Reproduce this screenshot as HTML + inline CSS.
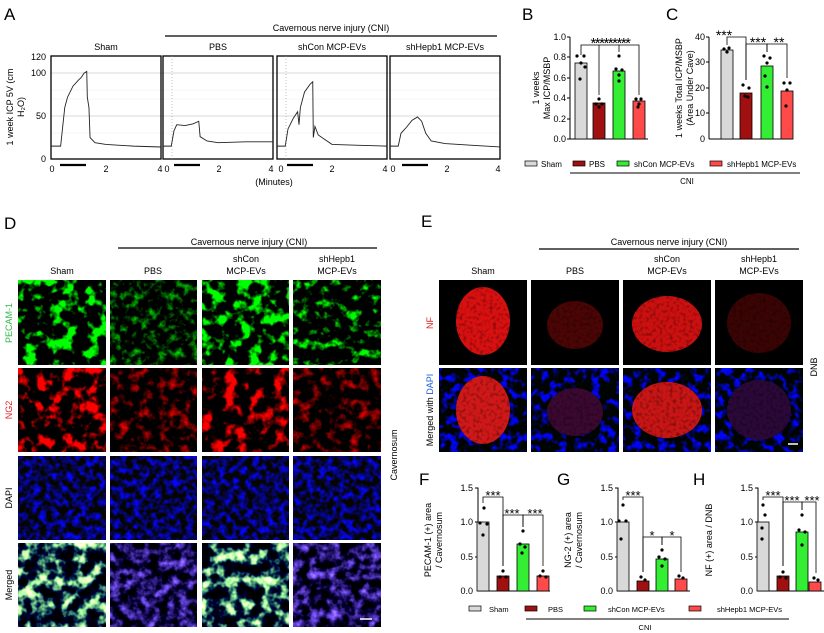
<!DOCTYPE html>
<html><head><meta charset="utf-8"><style>
html,body{margin:0;padding:0;background:#fff;}
svg{display:block;font-family:"Liberation Sans",Arial,sans-serif;}
filter{color-interpolation-filters:sRGB;}
</style></head><body>
<svg width="824" height="633" viewBox="0 0 824 633" xmlns="http://www.w3.org/2000/svg">
<defs>
<filter id="g1" color-interpolation-filters="sRGB" x="0" y="0" width="100%" height="100%"><feTurbulence type="fractalNoise" baseFrequency="0.08" numOctaves="3" seed="2"/><feColorMatrix values="0 0 0 0 0  6 0 0 0 -3.0  0 0 0 0 0  0 0 0 0 1"/></filter>
<filter id="g2" color-interpolation-filters="sRGB" x="0" y="0" width="100%" height="100%"><feTurbulence type="fractalNoise" baseFrequency="0.12" numOctaves="3" seed="5"/><feColorMatrix values="0 0 0 0 0  2.2 0 0 0 -1.05  0 0 0 0 0  0 0 0 0 1"/></filter>
<filter id="g3" color-interpolation-filters="sRGB" x="0" y="0" width="100%" height="100%"><feTurbulence type="fractalNoise" baseFrequency="0.08" numOctaves="3" seed="8"/><feColorMatrix values="0 0 0 0 0  6 0 0 0 -2.9  0 0 0 0 0  0 0 0 0 1"/></filter>
<filter id="g4" color-interpolation-filters="sRGB" x="0" y="0" width="100%" height="100%"><feTurbulence type="fractalNoise" baseFrequency="0.1" numOctaves="3" seed="11"/><feColorMatrix values="0 0 0 0 0  4 0 0 0 -2.1  0 0 0 0 0  0 0 0 0 1"/></filter>
<filter id="r1" color-interpolation-filters="sRGB" x="0" y="0" width="100%" height="100%"><feTurbulence type="fractalNoise" baseFrequency="0.08" numOctaves="3" seed="4"/><feColorMatrix values="5.5 0 0 0 -2.7  0 0 0 0 0  0 0 0 0 0  0 0 0 0 1"/></filter>
<filter id="r2" color-interpolation-filters="sRGB" x="0" y="0" width="100%" height="100%"><feTurbulence type="fractalNoise" baseFrequency="0.1" numOctaves="3" seed="6"/><feColorMatrix values="2.5 0 0 0 -1.2  0 0 0 0 0  0 0 0 0 0  0 0 0 0 1"/></filter>
<filter id="r3" color-interpolation-filters="sRGB" x="0" y="0" width="100%" height="100%"><feTurbulence type="fractalNoise" baseFrequency="0.08" numOctaves="3" seed="9"/><feColorMatrix values="4.5 0 0 0 -2.2  0 0 0 0 0  0 0 0 0 0  0 0 0 0 1"/></filter>
<filter id="b1" color-interpolation-filters="sRGB" x="0" y="0" width="100%" height="100%"><feTurbulence type="fractalNoise" baseFrequency="0.15" numOctaves="2" seed="7"/><feColorMatrix values="0 0 0 0 0.02  0 0 0 0 0.02  2.6 0 0 0 -1.0  0 0 0 0 1"/></filter>
<filter id="m1" color-interpolation-filters="sRGB" x="0" y="0" width="100%" height="100%"><feTurbulence type="fractalNoise" baseFrequency="0.08" numOctaves="3" seed="12"/><feColorMatrix values="4 0 0 0 -2.0  5 0 0 0 -2.3  2 0 0 0 -0.7  0 0 0 0 1"/></filter>
<filter id="m2" color-interpolation-filters="sRGB" x="0" y="0" width="100%" height="100%"><feTurbulence type="fractalNoise" baseFrequency="0.1" numOctaves="3" seed="13"/><feColorMatrix values="1.5 0 0 0 -0.65  1.1 0 0 0 -0.5  2.6 0 0 0 -0.95  0 0 0 0 1"/></filter>
<filter id="nb" color-interpolation-filters="sRGB" x="0" y="0" width="100%" height="100%"><feTurbulence type="fractalNoise" baseFrequency="0.12" numOctaves="2" seed="15"/><feColorMatrix values="0 0 0 0 0  0 0 0 0 0.02  5 0 0 0 -2.4  0 0 0 0 1"/></filter>
<filter id="nf" color-interpolation-filters="sRGB" x="0" y="0" width="100%" height="100%"><feTurbulence type="fractalNoise" baseFrequency="0.3" numOctaves="1" seed="14"/><feColorMatrix values="0 0 0 0 0  0 0 0 0 0  0 0 0 0 0  -3 0 0 0 1.6"/></filter>
</defs>

<!-- Panel A -->
<text x="4" y="20" font-size="17">A</text>
<line x1="165" y1="36" x2="497" y2="36" stroke="#000" stroke-width="1.2"/>
<text x="331" y="31" font-size="9" text-anchor="middle">Cavernous nerve injury (CNI)</text>
<g font-size="9" text-anchor="middle">
<text x="106" y="50">Sham</text><text x="218" y="50">PBS</text><text x="332" y="50">shCon MCP-EVs</text><text x="445" y="50">shHepb1 MCP-EVs</text>
</g>
<g font-size="9" text-anchor="end"><text x="46" y="60">120</text><text x="46" y="76">100</text><text x="46" y="119">50</text><text x="46" y="162">0</text></g>
<text transform="translate(13,107) rotate(-90)" font-size="9" text-anchor="middle">1 week ICP 5V (cm</text>
<text transform="translate(24,107) rotate(-90)" font-size="9" text-anchor="middle">H₂O)</text>
<g stroke="#ccc" stroke-width="0.8"><line x1="51" y1="73" x2="500" y2="73"/><line x1="51" y1="116" x2="500" y2="116"/></g>
<g stroke="#eee" stroke-width="0.5"><line x1="51" y1="99" x2="500" y2="99"/><line x1="51" y1="133" x2="500" y2="133"/><line x1="51" y1="90" x2="500" y2="90"/></g>
<g fill="none" stroke="#000" stroke-width="1.3">
<rect x="51" y="56" width="110" height="103"/><rect x="163" y="56" width="110" height="103"/><rect x="277" y="56" width="110" height="103"/><rect x="390" y="56" width="110" height="103"/>
</g>
<line x1="172" y1="56" x2="172" y2="159" stroke="#999" stroke-dasharray="1,2" stroke-width="0.6"/>
<line x1="286" y1="56" x2="286" y2="159" stroke="#999" stroke-dasharray="1,2" stroke-width="0.6"/>
<g fill="none" stroke="#222" stroke-width="0.9">
<polyline vector-effect="non-scaling-stroke" transform="translate(51,159) scale(27.5,-0.858)" points="0,15 0.35,15 0.4,30 0.5,60 0.6,72 0.8,85 1.0,92 1.1,95 1.2,100 1.3,102 1.32,72 1.38,60 1.42,25 1.6,19 2,17 3,15 4,14"/>
<polyline vector-effect="non-scaling-stroke" transform="translate(163,159) scale(27.5,-0.858)" points="0,15 0.3,15 0.4,33 0.5,40 0.8,39 1.1,41 1.3,44 1.35,26 1.6,21 2,19 3,20 4,20"/>
<polyline vector-effect="non-scaling-stroke" transform="translate(277,159) scale(27.5,-0.858)" points="0,15 0.3,15 0.4,35 0.6,48 0.75,55 0.8,40 0.85,60 1.0,78 1.2,87 1.3,90 1.32,25 1.38,38 1.5,28 2,17 3,16 4,15"/>
<polyline vector-effect="non-scaling-stroke" transform="translate(390,159) scale(27.5,-0.858)" points="0,15 0.3,15 0.4,30 0.6,37 0.8,45 1.0,49 1.15,44 1.3,30 1.5,21 2,18 3,16 4,14"/>
</g>
<g stroke="#000" stroke-width="2.2"><line x1="60" y1="165" x2="86" y2="165"/><line x1="174" y1="165" x2="200" y2="165"/><line x1="287" y1="165" x2="313" y2="165"/><line x1="402" y1="165" x2="428" y2="165"/></g>
<g font-size="9" text-anchor="middle">
<text x="52" y="172">0</text><text x="106" y="172">2</text><text x="160" y="172">4</text>
<text x="167" y="172">0</text><text x="219" y="172">2</text><text x="271" y="172">4</text>
<text x="281" y="172">0</text><text x="332" y="172">2</text><text x="385" y="172">4</text>
<text x="393" y="172">0</text><text x="447" y="172">2</text><text x="498" y="172">4</text>
<text x="274" y="185">(Minutes)</text>
</g>

<!-- Panel B -->
<text x="522" y="20" font-size="17">B</text>
<g font-size="9" text-anchor="end"><text x="566" y="40">1.0</text><text x="566" y="60">0.8</text><text x="566" y="81">0.6</text><text x="566" y="101">0.4</text><text x="566" y="122">0.2</text><text x="566" y="142">0.0</text></g>
<text transform="translate(539,88) rotate(-90)" font-size="9" text-anchor="middle">1 weeks</text>
<text transform="translate(550,88) rotate(-90)" font-size="9" text-anchor="middle">Max ICP/MSBP</text>
<g stroke="#000" stroke-width="1"><line x1="570" y1="37" x2="570" y2="139"/><line x1="570" y1="139" x2="648" y2="139"/>
<line x1="567" y1="37" x2="570" y2="37"/><line x1="567" y1="57" x2="570" y2="57"/><line x1="567" y1="78" x2="570" y2="78"/><line x1="567" y1="98" x2="570" y2="98"/><line x1="567" y1="119" x2="570" y2="119"/><line x1="567" y1="139" x2="570" y2="139"/></g>
<g stroke="#000" stroke-width="0.8">
<rect x="575" y="63" width="12" height="76" fill="#d9d9d9"/><rect x="593" y="103" width="12" height="36" fill="#a01010"/><rect x="613" y="71" width="12" height="68" fill="#33ee33"/><rect x="633" y="101" width="12" height="38" fill="#ff4a4a"/>
</g>
<g fill="#000"><circle cx="577" cy="56" r="1.6"/><circle cx="584" cy="56" r="1.6"/><circle cx="581" cy="63" r="1.6"/><circle cx="585" cy="67" r="1.6"/><circle cx="580" cy="79" r="1.6"/>
<circle cx="599" cy="99" r="1.6"/><circle cx="596" cy="104" r="1.6"/><circle cx="602" cy="104" r="1.6"/><circle cx="599" cy="107" r="1.6"/>
<circle cx="619" cy="56" r="1.6"/><circle cx="616" cy="69" r="1.6"/><circle cx="622" cy="70" r="1.6"/><circle cx="619" cy="75" r="1.6"/><circle cx="619" cy="81" r="1.6"/>
<circle cx="636" cy="99" r="1.6"/><circle cx="641" cy="99" r="1.6"/><circle cx="639" cy="104" r="1.6"/><circle cx="638" cy="107" r="1.6"/></g>
<g fill="none" stroke="#000" stroke-width="0.8"><polyline points="581,55 581,45 599,45 599,95"/><polyline points="619,52 619,45 639,45 639,95"/><polyline points="599,45 619,45"/></g>
<text x="610" y="48" font-size="15" text-anchor="middle" letter-spacing="-1.5">*********</text>

<!-- Panel C -->
<text x="666" y="20" font-size="17">C</text>
<g font-size="9" text-anchor="end"><text x="705" y="40">40</text><text x="705" y="65">30</text><text x="705" y="91">20</text><text x="705" y="116">10</text><text x="705" y="142">0</text></g>
<text transform="translate(682,88) rotate(-90)" font-size="9" text-anchor="middle">1 weeks Total ICP/MSBP</text>
<text transform="translate(693,88) rotate(-90)" font-size="9" text-anchor="middle">(Area Under Cave)</text>
<g stroke="#000" stroke-width="1"><line x1="709" y1="37" x2="709" y2="139"/><line x1="709" y1="139" x2="793" y2="139"/>
<line x1="706" y1="37" x2="709" y2="37"/><line x1="706" y1="62" x2="709" y2="62"/><line x1="706" y1="88" x2="709" y2="88"/><line x1="706" y1="113" x2="709" y2="113"/></g>
<g stroke="#000" stroke-width="0.8">
<rect x="721" y="50" width="12" height="89" fill="#d9d9d9"/><rect x="740" y="93" width="12" height="46" fill="#a01010"/><rect x="761" y="66" width="12" height="73" fill="#33ee33"/><rect x="781" y="91" width="12" height="48" fill="#ff4a4a"/>
</g>
<g fill="#000"><circle cx="724" cy="49" r="1.6"/><circle cx="729" cy="48" r="1.6"/><circle cx="727" cy="52" r="1.6"/>
<circle cx="743" cy="85" r="1.6"/><circle cx="749" cy="88" r="1.6"/><circle cx="745" cy="96" r="1.6"/><circle cx="748" cy="97" r="1.6"/>
<circle cx="764" cy="56" r="1.6"/><circle cx="770" cy="58" r="1.6"/><circle cx="767" cy="63" r="1.6"/><circle cx="765" cy="76" r="1.6"/><circle cx="767" cy="87" r="1.6"/>
<circle cx="784" cy="83" r="1.6"/><circle cx="790" cy="83" r="1.6"/><circle cx="787" cy="90" r="1.6"/><circle cx="786" cy="106" r="1.6"/></g>
<g fill="none" stroke="#000" stroke-width="0.8"><polyline points="727,45 727,37 746,37 746,80"/><polyline points="746,80 746,44 767,44 767,52"/><polyline points="767,52 767,44 787,44 787,78"/></g>
<g font-size="14" text-anchor="middle"><text x="724" y="40">***</text><text x="758" y="47">***</text><text x="779" y="47">**</text></g>

<!-- Legend B/C -->
<g stroke="#000" stroke-width="0.7"><rect x="525" y="161" width="12" height="5" fill="#d9d9d9"/><rect x="573" y="161" width="12" height="5" fill="#a01010"/><rect x="617" y="161" width="12" height="5" fill="#33ee33"/><rect x="710" y="161" width="12" height="5" fill="#ff4a4a"/></g>
<g font-size="8"><text x="541" y="167">Sham</text><text x="589" y="167">PBS</text><text x="634" y="167">shCon MCP-EVs</text><text x="727" y="167">shHepb1 MCP-EVs</text></g>
<line x1="570" y1="173" x2="800" y2="173" stroke="#000" stroke-width="1"/>
<text x="687" y="184" font-size="8" text-anchor="middle">CNI</text>

<!-- Panel D -->
<text x="4" y="229" font-size="17">D</text>
<line x1="118" y1="248" x2="377" y2="248" stroke="#000" stroke-width="1.2"/>
<text x="249" y="245" font-size="9" text-anchor="middle">Cavernous nerve injury (CNI)</text>
<g font-size="9" text-anchor="middle"><text x="62" y="274">Sham</text><text x="153" y="274">PBS</text><text x="246" y="262">shCon</text><text x="246" y="274">MCP-EVs</text><text x="337" y="262">shHepb1</text><text x="337" y="274">MCP-EVs</text></g>
<g font-size="9" text-anchor="middle">
<text transform="translate(12,323) rotate(-90)" fill="#2db84a">PECAM-1</text>
<text transform="translate(12,410) rotate(-90)" fill="#e02020">NG2</text>
<text transform="translate(12,498) rotate(-90)">DAPI</text>
<text transform="translate(12,585) rotate(-90)">Merged</text>
<text transform="translate(397,455) rotate(-90)">Cavernosum</text>
</g>
<rect x="18" y="280" width="88" height="85" filter="url(#g1)"/>
<rect x="110" y="280" width="87" height="85" filter="url(#g2)"/>
<rect x="202" y="280" width="87" height="85" filter="url(#g3)"/>
<rect x="293" y="280" width="88" height="85" filter="url(#g4)"/>
<rect x="18" y="368" width="88" height="84" filter="url(#r1)"/>
<rect x="110" y="368" width="87" height="84" filter="url(#r2)"/>
<rect x="202" y="368" width="87" height="84" filter="url(#r3)"/>
<rect x="293" y="368" width="88" height="84" filter="url(#r2)"/>
<rect x="18" y="456" width="88" height="84" filter="url(#b1)"/>
<rect x="110" y="456" width="87" height="84" filter="url(#b1)"/>
<rect x="202" y="456" width="87" height="84" filter="url(#b1)"/>
<rect x="293" y="456" width="88" height="84" filter="url(#b1)"/>
<rect x="18" y="543" width="88" height="84" filter="url(#m1)"/>
<rect x="110" y="543" width="87" height="84" filter="url(#m2)"/>
<rect x="202" y="543" width="87" height="84" filter="url(#m1)"/>
<rect x="293" y="543" width="88" height="84" filter="url(#m2)"/>
<line x1="360" y1="619" x2="372" y2="619" stroke="#fff" stroke-width="1.5"/>

<!-- Panel E -->
<text x="421" y="227" font-size="17">E</text>
<line x1="539" y1="249" x2="799" y2="249" stroke="#000" stroke-width="1.2"/>
<text x="669" y="245" font-size="9" text-anchor="middle">Cavernous nerve injury (CNI)</text>
<g font-size="9" text-anchor="middle"><text x="483" y="274">Sham</text><text x="575" y="274">PBS</text><text x="667" y="262">shCon</text><text x="667" y="274">MCP-EVs</text><text x="759" y="262">shHepb1</text><text x="759" y="274">MCP-EVs</text></g>
<text transform="translate(433,323) rotate(-90)" font-size="9" text-anchor="middle" fill="#e02020">NF</text>
<text transform="translate(433,410) rotate(-90)" font-size="9" text-anchor="middle">Merged with <tspan fill="#2060e0">DAPI</tspan></text>
<text transform="translate(817,367) rotate(-90)" font-size="9" text-anchor="middle">DNB</text>
<rect x="439" y="280" width="88" height="85" fill="#000"/>
<rect x="531" y="280" width="88" height="85" fill="#000"/>
<rect x="623" y="280" width="88" height="85" fill="#000"/>
<rect x="715" y="280" width="88" height="85" fill="#000"/>
<rect x="439" y="368" width="88" height="84" filter="url(#nb)"/>
<rect x="531" y="368" width="88" height="84" filter="url(#nb)"/>
<rect x="623" y="368" width="88" height="84" filter="url(#nb)"/>
<rect x="715" y="368" width="88" height="84" filter="url(#nb)"/>
<g>
<ellipse cx="483" cy="321" rx="27" ry="34" fill="#d81010"/>
<ellipse cx="575" cy="325" rx="28" ry="24" fill="#4a0505"/>
<ellipse cx="667" cy="324" rx="35" ry="28" fill="#cc1010"/>
<ellipse cx="759" cy="323" rx="32" ry="30" fill="#3a0404"/>
<ellipse cx="483" cy="410" rx="27" ry="34" fill="#d01818"/>
<ellipse cx="575" cy="412" rx="28" ry="24" fill="#3a0830"/>
<ellipse cx="667" cy="410" rx="35" ry="28" fill="#c81515"/>
<ellipse cx="759" cy="410" rx="32" ry="30" fill="#2a0838"/>
</g>
<rect x="439" y="280" width="364" height="172" filter="url(#nf)" opacity="0.35"/>
<rect x="527" y="280" width="4" height="172" fill="#fff"/><rect x="619" y="280" width="4" height="172" fill="#fff"/><rect x="711" y="280" width="4" height="172" fill="#fff"/><rect x="439" y="365" width="364" height="3" fill="#fff"/>
<line x1="788" y1="444" x2="798" y2="444" stroke="#fff" stroke-width="1.5"/>

<!-- Panels F G H -->
<g font-size="17"><text x="419" y="485">F</text><text x="557" y="485">G</text><text x="693" y="485">H</text></g>
<g font-size="9" text-anchor="end">
<text x="473" y="491">1.5</text><text x="473" y="525">1.0</text><text x="473" y="560">0.5</text><text x="473" y="594">0.0</text>
<text x="613" y="491">1.5</text><text x="613" y="525">1.0</text><text x="613" y="560">0.5</text><text x="613" y="594">0.0</text>
<text x="753" y="491">1.5</text><text x="753" y="525">1.0</text><text x="753" y="560">0.5</text><text x="753" y="594">0.0</text>
</g>
<g font-size="9" text-anchor="middle">
<text transform="translate(431,540) rotate(-90)">PECAM-1 (+) area</text><text transform="translate(442,540) rotate(-90)">/ Cavernosum</text>
<text transform="translate(571,540) rotate(-90)">NG-2 (+) area</text><text transform="translate(582,540) rotate(-90)">/ Cavernosum</text>
<text transform="translate(712,540) rotate(-90)">NF (+) area / DNB</text>
</g>
<g stroke="#000" stroke-width="1">
<polyline fill="none" points="475,488 478,488 478,591 550,591"/><line x1="475" y1="522" x2="478" y2="522"/><line x1="475" y1="557" x2="478" y2="557"/>
<polyline fill="none" points="615,488 618,488 618,591 690,591"/><line x1="615" y1="522" x2="618" y2="522"/><line x1="615" y1="557" x2="618" y2="557"/>
<polyline fill="none" points="755,488 758,488 758,591 824,591"/><line x1="755" y1="522" x2="758" y2="522"/><line x1="755" y1="557" x2="758" y2="557"/>
</g>
<g stroke="#000" stroke-width="0.8">
<rect x="477" y="522" width="12" height="69" fill="#d9d9d9"/><rect x="497" y="576" width="12" height="15" fill="#a01010"/><rect x="517" y="544" width="12" height="47" fill="#33ee33"/><rect x="537" y="576" width="12" height="15" fill="#ff4a4a"/>
<rect x="617" y="522" width="12" height="69" fill="#d9d9d9"/><rect x="637" y="581" width="12" height="10" fill="#a01010"/><rect x="656" y="559" width="12" height="32" fill="#33ee33"/><rect x="675" y="579" width="12" height="12" fill="#ff4a4a"/>
<rect x="757" y="522" width="12" height="69" fill="#d9d9d9"/><rect x="777" y="576" width="12" height="15" fill="#a01010"/><rect x="796" y="532" width="12" height="59" fill="#33ee33"/>
<rect x="809" y="582" width="12" height="9" fill="#ff4a4a"/>
</g>
<g fill="#000">
<circle cx="484" cy="508" r="1.6"/><circle cx="480" cy="523" r="1.6"/><circle cx="487" cy="524" r="1.6"/><circle cx="483" cy="535" r="1.6"/>
<circle cx="503" cy="571" r="1.6"/><circle cx="500" cy="577" r="1.6"/><circle cx="506" cy="577" r="1.6"/>
<circle cx="523" cy="531" r="1.6"/><circle cx="520" cy="544" r="1.6"/><circle cx="525" cy="547" r="1.6"/><circle cx="522" cy="553" r="1.6"/>
<circle cx="543" cy="571" r="1.6"/><circle cx="540" cy="576" r="1.6"/><circle cx="546" cy="577" r="1.6"/>
<circle cx="623" cy="505" r="1.6"/><circle cx="619" cy="521" r="1.6"/><circle cx="626" cy="521" r="1.6"/><circle cx="621" cy="539" r="1.6"/>
<circle cx="641" cy="577" r="1.6"/><circle cx="645" cy="580" r="1.6"/>
<circle cx="662" cy="550" r="1.6"/><circle cx="659" cy="557" r="1.6"/><circle cx="665" cy="559" r="1.6"/><circle cx="662" cy="566" r="1.6"/>
<circle cx="679" cy="576" r="1.6"/><circle cx="683" cy="578" r="1.6"/>
<circle cx="763" cy="505" r="1.6"/><circle cx="765" cy="515" r="1.6"/><circle cx="762" cy="528" r="1.6"/><circle cx="762" cy="539" r="1.6"/>
<circle cx="783" cy="572" r="1.6"/><circle cx="780" cy="577" r="1.6"/><circle cx="786" cy="578" r="1.6"/>
<circle cx="802" cy="515" r="1.6"/><circle cx="799" cy="530" r="1.6"/><circle cx="805" cy="532" r="1.6"/><circle cx="802" cy="545" r="1.6"/>
<circle cx="814" cy="578" r="1.6"/><circle cx="818" cy="580" r="1.6"/>
</g>
<g fill="none" stroke="#000" stroke-width="0.8">
<polyline points="483,503 483,497 503,497 503,566"/><polyline points="503,566 503,515 523,515 523,527"/><polyline points="523,527 523,515 543,515 543,566"/>
<polyline points="623,500 623,497 643,497 643,572"/><polyline points="643,572 643,537 662,537 662,545"/><polyline points="662,545 662,537 681,537 681,572"/>
<polyline points="763,500 763,497 783,497 783,566"/><polyline points="783,566 783,502 802,502 802,510"/><polyline points="802,510 802,502 816,502 816,573"/>
</g>
<g font-size="13" text-anchor="middle">
<text x="493" y="500">***</text><text x="512" y="518">***</text><text x="535" y="518">***</text>
<text x="633" y="500">***</text><text x="652" y="540">*</text><text x="672" y="540">*</text>
<text x="773" y="500">***</text><text x="792" y="505">***</text><text x="812" y="505">***</text>
</g>
<g stroke="#000" stroke-width="0.7"><rect x="469" y="606" width="12" height="5" fill="#d9d9d9"/><rect x="525" y="606" width="12" height="5" fill="#a01010"/><rect x="584" y="606" width="12" height="5" fill="#33ee33"/><rect x="689" y="606" width="12" height="5" fill="#ff4a4a"/></g>
<g font-size="7.5"><text x="489" y="612">Sham</text><text x="548" y="612">PBS</text><text x="608" y="612">shCon MCP-EVs</text><text x="717" y="612">shHepb1 MCP-EVs</text></g>
<line x1="526" y1="619" x2="789" y2="619" stroke="#000" stroke-width="1"/>
<text x="645" y="630" font-size="7.5" text-anchor="middle">CNI</text>
</svg>
</body></html>
